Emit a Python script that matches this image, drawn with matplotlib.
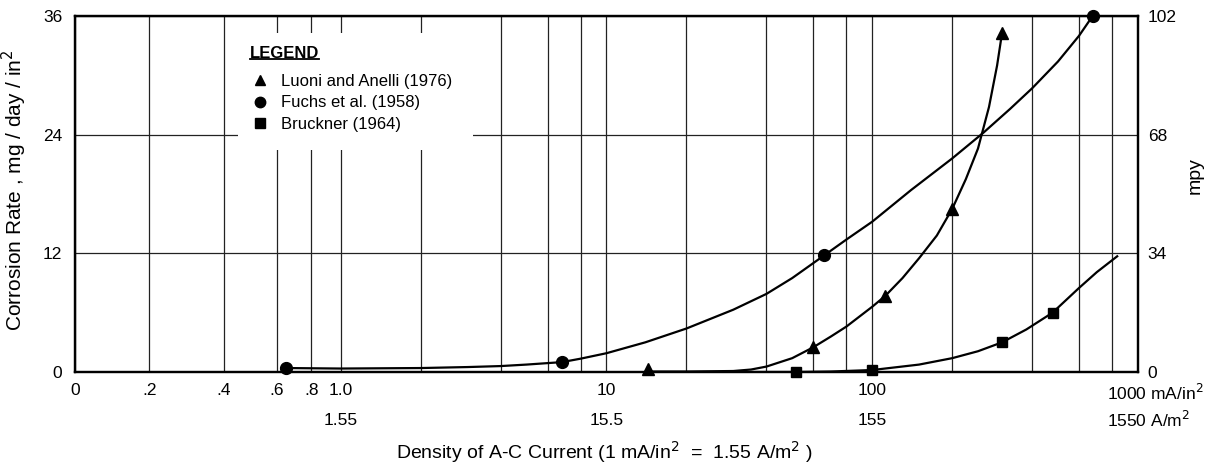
import numpy as np
import matplotlib
matplotlib.use("Agg")
import matplotlib.pyplot as plt
from matplotlib.lines import Line2D
from matplotlib.patches import Rectangle
from matplotlib.transforms import ScaledTranslation, blended_transform_factory

plt.rcParams['font.family'] = ['Liberation Sans', 'DejaVu Sans']

# measured points (x: mA/in^2, y: mg/day/in^2)
luoni_x = [14.3, 60, 112, 200, 308]
luoni_y = [0.3, 2.5, 7.7, 16.5, 34.3]
fuchs_x = [0.65, 6.8, 66, 675]
fuchs_y = [0.4, 1.0, 11.8, 36]
bruckner_x = [51.5, 100, 308, 477]
bruckner_y = [0.0, 0.2, 3.0, 6.0]

# hand drawn curves through them
luoni_curve_x = [14.3, 20, 30, 35, 40, 50, 60, 70, 80, 100, 112, 130, 150, 175, 200, 225, 250, 275, 295, 308]
luoni_curve_y = [0.05, 0.05, 0.1, 0.25, 0.55, 1.4, 2.5, 3.6, 4.6, 6.6, 7.7, 9.5, 11.5, 13.8, 16.5, 19.5, 22.6, 26.8, 31, 34.3]
fuchs_curve_x = [0.65, 1, 2, 3, 4, 5, 6.8, 8, 10, 14, 20, 30, 40, 50, 66, 80, 100, 140, 200, 262, 330, 400, 500, 600, 675]
fuchs_curve_y = [0.4, 0.35, 0.4, 0.5, 0.6, 0.75, 1.0, 1.35, 1.9, 3.0, 4.4, 6.3, 7.9, 9.5, 11.8, 13.4, 15.2, 18.4, 21.6, 24.2, 26.6, 28.7, 31.4, 34.0, 36]
bruckner_curve_x = [35, 51.5, 70, 100, 150, 200, 250, 308, 380, 477, 600, 700, 835]
bruckner_curve_y = [0.0, 0.0, 0.05, 0.2, 0.75, 1.4, 2.1, 3.0, 4.3, 6.0, 8.5, 10.1, 11.7]

labels = ['Luoni and Anelli (1976)', 'Fuchs et al. (1958)', 'Bruckner (1964)']

x_ticks = [0, 0.2, 0.4, 0.6, 0.8, 1, 10, 100, 1000]
x_ticklabels = ['0', '.2', '.4', '.6', '.8', '1.0', '10', '100', '1000 mA/in$^2$']
x_minor = [2, 4, 6, 8, 20, 40, 60, 80, 200, 400, 600, 800]
si_ticks = [1, 10, 100, 1000]
si_labels = ['1.55', '15.5', '155', '1550 A/m$^2$']
y_ticks = [0, 12, 24, 36]
mpy_ticks = [0, 34, 68, 102]

# odd hand-made axis: stretched linear part below 1, log above
kx = [0, 0.2, 0.4, 0.6, 0.8, 1.0]
ku = [-1.0, -0.72, -0.44, -0.24, -0.11, 0.0]


def fwd(x):
    x = np.asarray(x, float)
    return np.where(x < 1, np.interp(x, kx, ku), np.log10(np.maximum(x, 1)))


def inv(u):
    u = np.asarray(u, float)
    return np.where(u < 0, np.interp(u, ku, kx), 10 ** np.maximum(u, 0))


fig = plt.figure(figsize=(12.05, 4.65), dpi=100)
ax = fig.add_axes([0.0622, 0.2, 0.8822, 0.7656])
ax.set_xscale('function', functions=(fwd, inv))
ax.set_xlim(0, 1000)
ax.set_ylim(0, 36)

ax.set_xticks(x_ticks, labels=x_ticklabels)
ax.set_xticks(x_minor, minor=True)
ax.set_yticks(y_ticks)
ax.grid(True, which='both', axis='x', color='#222222', lw=0.9)
ax.grid(True, which='major', axis='y', color='#222222', lw=0.9)
ax.tick_params(which='both', length=0, labelsize=12.5)
ax.tick_params(axis='x', pad=8)
ax.tick_params(axis='y', pad=9)
for s in ax.spines.values():
    s.set_linewidth(1.6)

last = ax.get_xticklabels()[-1]
last.set_ha('left')
last.set_transform(last.get_transform() + ScaledTranslation(-0.31, 0, fig.dpi_scale_trans))

trans = blended_transform_factory(ax.transData, ax.transAxes)
for xv, lab in zip(si_ticks, si_labels):
    if xv == 1000:
        ax.text(xv, -0.135, lab, transform=trans + ScaledTranslation(-0.31, 0, fig.dpi_scale_trans),
                ha='left', va='center', fontsize=12.5)
    else:
        ax.text(xv, -0.135, lab, transform=trans, ha='center', va='center', fontsize=12.5)

# white patch under the legend hides the grid there
ax.add_patch(Rectangle((0.153, 0.624), 0.221, 0.328, transform=ax.transAxes,
                       facecolor='white', edgecolor='none', zorder=2))

ax.plot(luoni_curve_x, luoni_curve_y, color='black', lw=1.6, zorder=3)
ax.plot(fuchs_curve_x, fuchs_curve_y, color='black', lw=1.6, zorder=3)
ax.plot(bruckner_curve_x, bruckner_curve_y, color='black', lw=1.6, zorder=3)
h1, = ax.plot(luoni_x, luoni_y, '^', color='black', ms=8.5, ls='none', zorder=4, clip_on=False)
h2, = ax.plot(fuchs_x, fuchs_y, 'o', color='black', ms=8.5, ls='none', zorder=4, clip_on=False)
h3, = ax.plot(bruckner_x, bruckner_y, 's', color='black', ms=7.5, ls='none', zorder=4, clip_on=False)

leg = ax.legend([h1, h2, h3], labels, loc='upper left', bbox_to_anchor=(0.166, 0.838),
                frameon=False, fontsize=12, handlelength=1.0, handletextpad=0.75,
                labelspacing=0.4, borderaxespad=0, borderpad=0)
for h in leg.legend_handles:
    h.set_markersize(7.5)

title = ax.text(0.1646, 0.896, 'LEGEND', transform=ax.transAxes, ha='left', va='center',
                fontsize=12, fontweight='bold', zorder=5)

ax.set_ylabel('Corrosion Rate , mg / day / in$^2$', fontsize=15)
ax.yaxis.set_label_coords(-0.043, 0.511)

ax2 = ax.twinx()
ax2.set_ylim(0, 102)
ax2.set_yticks(mpy_ticks)
ax2.tick_params(length=0, pad=7, labelsize=12.5)
ax2.set_ylabel('mpy', fontsize=14, rotation=90)
ax2.yaxis.set_label_coords(1.046, 0.553)
for s in ax2.spines.values():
    s.set_linewidth(1.6)

fig.text(0.502, 0.028, 'Density of A-C Current (1 mA/in$^2$  =  1.55 A/m$^2$ )',
         ha='center', va='center', fontsize=14)

# underline the legend title
fig.canvas.draw()
bb = title.get_window_extent()
yl = bb.y0 + 2
fig.add_artist(Line2D([bb.x0, bb.x1], [yl, yl], transform=None, color='black', lw=1.3))

fig.savefig('out.png', dpi=100)
